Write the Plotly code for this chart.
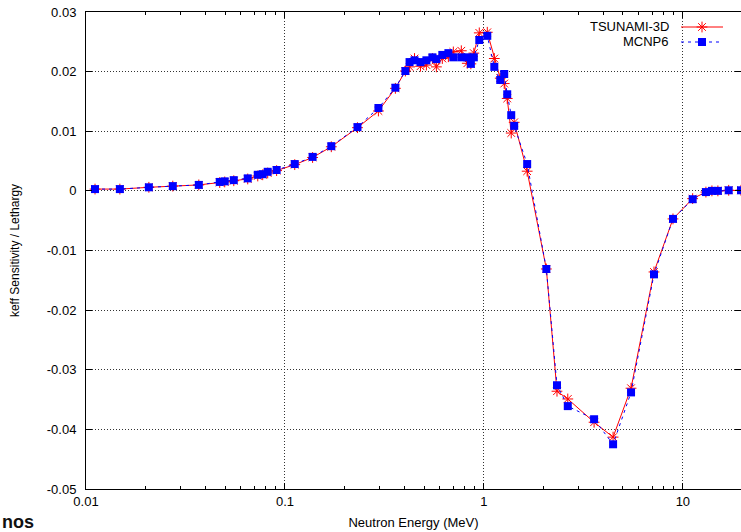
import plotly.graph_objects as go
import math

energy = [0.0111, 0.0148, 0.0207, 0.0273, 0.0369, 0.0470, 0.0498, 0.0553, 0.0650, 0.0730,
          0.0773, 0.0819, 0.0908, 0.112, 0.1377, 0.171, 0.2315, 0.295, 0.359, 0.403,
          0.423, 0.448, 0.480, 0.514, 0.551, 0.577, 0.618, 0.663, 0.702, 0.770,
          0.825, 0.86, 0.89, 0.948, 1.04, 1.128, 1.208, 1.265, 1.31, 1.372,
          1.42, 1.65, 2.06, 2.33, 2.64, 3.58, 4.46, 5.49, 7.16, 8.92,
          11.2, 13.06, 14.0, 15.0, 17.0, 19.6]

mcnp6 = [0.0003, 0.0003, 0.0006, 0.0008, 0.0010, 0.0015, 0.0016, 0.0018, 0.0021, 0.0027,
         0.0028, 0.0032, 0.0035, 0.0045, 0.0057, 0.0075, 0.0107, 0.0139, 0.0173, 0.0201,
         0.0216, 0.0219, 0.0216, 0.0219, 0.0224, 0.0221, 0.0228, 0.0231, 0.0224, 0.0224,
         0.0224, 0.0213, 0.0224, 0.0253, 0.0260, 0.0208, 0.0186, 0.0196, 0.0162, 0.0127,
         0.0109, 0.0045, -0.0131, -0.0326, -0.0361, -0.0383, -0.0425, -0.0338, -0.0140, -0.0047,
         -0.0014, -0.0002, 0.0000, 0.0000, 0.0001, 0.0001]

tsunami = [0.0003, 0.0003, 0.0006, 0.0008, 0.0010, 0.0014, 0.0015, 0.0017, 0.0020, 0.0025,
           0.0027, 0.0030, 0.0034, 0.0044, 0.0056, 0.0074, 0.0106, 0.0134, 0.0172, 0.0201,
           0.0208, 0.0222, 0.0209, 0.0211, 0.0222, 0.0208, 0.0222, 0.0225, 0.0233, 0.0235,
           0.0214, 0.0213, 0.0231, 0.0265, 0.0266, 0.0222, 0.0189, 0.0180, 0.0155, 0.0097,
           0.0115, 0.0033, -0.0131, -0.0336, -0.0349, -0.0388, -0.0413, -0.0331, -0.0136, -0.0047,
           -0.0013, -0.0002, 0.0000, 0.0000, 0.0001, 0.0001]

series_names = ["TSUNAMI-3D", "MCNP6"]

x_tickvals = [0.01, 0.1, 1, 10]
x_ticktext = ["0.01", "0.1", "1", "10"]
y_tickvals = [0.03, 0.02, 0.01, 0, -0.01, -0.02, -0.03, -0.04, -0.05]
y_ticktext = ["0.03", "0.02", "0.01", "0", "-0.01", "-0.02", "-0.03", "-0.04", "-0.05"]

font = "Liberation Sans, Arial, sans-serif"

fig = go.Figure()
fig.add_trace(go.Scatter(
    x=energy, y=tsunami, name="", mode="lines+markers", legend="legend",
    line=dict(color="#ff0000", width=1),
    marker=dict(symbol="asterisk-open", size=9, color="#ff0000", line=dict(color="#ff0000", width=1)),
))
fig.add_trace(go.Scatter(
    x=energy, y=mcnp6, name="", mode="lines+markers", legend="legend2",
    line=dict(color="#0000ff", width=1, dash="3px,4px"),
    marker=dict(symbol="square", size=8, color="#0000ff"),
))

axis_common = dict(
    showline=True, linecolor="black", linewidth=1, mirror="ticks",
    ticks="inside", ticklen=6, tickcolor="black",
    showgrid=True, gridcolor="#333333", gridwidth=1, griddash="1px,2px",
    zeroline=False, tickfont=dict(family=font, size=13, color="black"),
    automargin=False,
)

fig.update_xaxes(
    type="log", range=[-2, math.log10(19.6)],
    tickvals=x_tickvals, ticktext=x_ticktext,
    minor=dict(ticks="inside", ticklen=3, tickcolor="black", showgrid=False, dtick="D1"),
    title=dict(text="Neutron Energy (MeV)", font=dict(family=font, size=13, color="black"), standoff=10),
    **axis_common,
)
fig.update_yaxes(
    range=[-0.05, 0.03], tickvals=y_tickvals, ticktext=y_ticktext,
    ticklabelstandoff=6,
    title=dict(text="keff Sensitivity / Lethargy", font=dict(family=font, size=12, color="black"), standoff=24),
    **axis_common,
)

# legend labels (right-aligned to the left of the samples, gnuplot style)
for name, ypix in zip(series_names, [27, 42]):
    fig.add_annotation(
        text=name, xref="paper", yref="paper",
        x=(671 - 86) / 655, y=1 - (ypix - 12) / 477,
        xanchor="right", yanchor="middle", showarrow=False,
        font=dict(family=font, size=13, color="black"),
    )

fig.add_annotation(
    text="<b>nos</b>", xref="paper", yref="paper", x=-0.131, y=-(522 - 489) / 477,
    xanchor="left", yanchor="middle", showarrow=False,
    font=dict(family=font, size=18, color="#111111"),
)

legend_common = dict(xanchor="left", yanchor="middle", bgcolor="rgba(0,0,0,0)",
                     font=dict(family=font, size=10, color="rgba(0,0,0,0)"),
                     itemwidth=42, borderwidth=0)

fig.update_layout(
    width=741, height=532,
    margin=dict(l=86, r=0, t=12, b=43),
    paper_bgcolor="white", plot_bgcolor="white",
    showlegend=True,
    legend=dict(x=(676 - 86) / 655, y=1 - (27 - 12) / 477, **legend_common),
    legend2=dict(x=(676 - 86) / 655, y=1 - (42 - 12) / 477, **legend_common),
    font=dict(family=font),
)

fig.write_html("out.html", config={"displayModeBar": False},
               post_script="document.body.style.margin='0';document.body.style.overflow='hidden';")
